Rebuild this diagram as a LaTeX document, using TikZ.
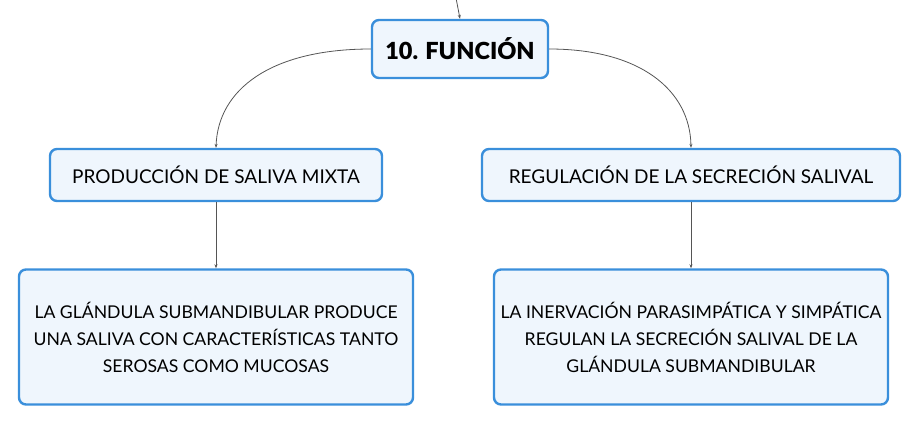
\documentclass[tikz,border=0pt]{standalone}
\usepackage{fontspec}
\setmainfont{Lato}
\newfontfamily\blackfont{Lato Black}
\usetikzlibrary{arrows.meta}
\definecolor{boxborder}{HTML}{3A8FDB}
\definecolor{boxfill}{HTML}{EFF6FD}
\definecolor{linecol}{HTML}{555555}
\tikzset{
  mbox/.style={draw=boxborder, fill=boxfill, line width=2.4pt, rounded corners=7pt, align=center, inner sep=0pt, font=\fontsize{17.6}{27}\selectfont},
  conn/.style={draw=linecol, line width=0.8pt, -{Stealth[length=4pt,width=3pt]}}
}
\begin{document}
\begin{tikzpicture}[x=1pt,y=-1pt]
\useasboundingbox (0,0) rectangle (920,426);
\node[mbox, minimum width=176pt, minimum height=58pt, font=\fontsize{23.5}{26}\blackfont] (root) at (460,49) {10. FUNCIÓN};
\node[mbox, minimum width=332pt, minimum height=52pt, font=\fontsize{19}{26}\selectfont] (a) at (216,175) {PRODUCCIÓN DE SALIVA MIXTA};
\node[mbox, minimum width=418pt, minimum height=52pt, font=\fontsize{19}{26}\selectfont] (b) at (691,175) {REGULACIÓN DE LA SECRECIÓN SALIVAL};
\node[mbox, minimum width=394pt, minimum height=135pt] (a2) at (216,337) {LA GLÁNDULA SUBMANDIBULAR PRODUCE\\UNA SALIVA CON CARACTERÍSTICAS TANTO\\SEROSAS COMO MUCOSAS};
\node[mbox, minimum width=394pt, minimum height=135pt] (b2) at (691,337) {LA INERVACIÓN PARASIMPÁTICA Y SIMPÁTICA\\REGULAN LA SECRECIÓN SALIVAL DE LA\\GLÁNDULA SUBMANDIBULAR};
\coordinate (top) at (456,-2);
\draw[conn] (top) -- (root.north);
\draw[conn] (root.west) .. controls (270,49) and (218,90) .. (a.north);
\draw[conn] (root.east) .. controls (640,49) and (690,90) .. (b.north);
\draw[conn] (a.south) -- (a2.north);
\draw[conn] (b.south) -- (b2.north);
\end{tikzpicture}
\end{document}
